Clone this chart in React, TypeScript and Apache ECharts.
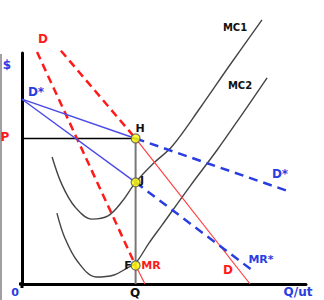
import React, { useEffect, useRef } from "react";
import * as echarts from "echarts";

// Equilibrium values (Q, P) and points on the Q vertical
const Q_EQ = 40;
const P_EQ = 63;
const J_VAL = 44;
const F_VAL = 8;

// Marginal cost curves [Q, $]
const mc1: number[][] = [
  [10.6, 55.0], [14.1, 42.9], [18.7, 33.3], [24.6, 28.1], [30.3, 29.5],
  [35.3, 35.8], [40, 44], [46.5, 52.5], [52.8, 59.5], [62.7, 76.2],
  [73.2, 94.8], [84.5, 114.3],
];
const mc2: number[][] = [
  [12.3, 30.7], [15.1, 19.9], [19.7, 9.5], [26.1, 3.0], [32.4, 3.9],
  [37.0, 6.9], [40, 9], [44.7, 17.7], [49.3, 25.5], [59.2, 42.4],
  [68.7, 58.0], [77.8, 74.0], [86.3, 89.2],
];

// Demand D (red) and its marginal revenue MR (red)
const dDashed: number[][] = [[13.7, 101], [Q_EQ, P_EQ]];
const dSolid: number[][] = [[Q_EQ, P_EQ], [80.3, 0]];
const mrDashed: number[][] = [[5.3, 100.4], [Q_EQ, F_VAL]];
const mrSolid: number[][] = [[Q_EQ, F_VAL], [43.3, 0]];

// Kinked demand D* (blue) and MR* (blue)
const dStarSolid: number[][] = [[0, 80], [Q_EQ, P_EQ]];
const dStarDashed: number[][] = [[Q_EQ, P_EQ], [93, 40.5]];
const mrStarSolid: number[][] = [[0, 80], [Q_EQ, J_VAL]];
const mrStarDashed: number[][] = [[Q_EQ, J_VAL], [81, 6]];

const priceLine: number[][] = [[0, P_EQ], [Q_EQ, P_EQ]];
const qLine: number[][] = [[Q_EQ, P_EQ], [Q_EQ, 0]];
const points: number[][] = [[Q_EQ, P_EQ], [Q_EQ, J_VAL], [Q_EQ, F_VAL]];

const RED = "#ff1a1a";
const BLUE = "#2a3de0";
const FONT = '"DejaVu Sans", Verdana, sans-serif';

function line(data: number[][], color: string, width: number, type: any, z: number, smooth: any = false) {
  return {
    type: "line",
    data,
    showSymbol: false,
    symbol: "none",
    clip: false,
    smooth,
    silent: true,
    z,
    lineStyle: { color, width, type },
  };
}

function txt(text: string, x: number, y: number, fill: string, size = 11) {
  return {
    type: "text",
    x,
    y,
    z: 100,
    style: {
      text,
      fill,
      font: `bold ${size}px ${FONT}`,
      align: "center",
      verticalAlign: "middle",
      textAlign: "center",
      textVerticalAlign: "middle",
    },
  };
}

export default function App() {
  const ref = useRef<HTMLDivElement>(null);
  useEffect(() => {
    if (!ref.current) return;
    const chart = echarts.init(ref.current, undefined, { renderer: "svg" });
    chart.setOption({
      animation: false,
      backgroundColor: "#ffffff",
      grid: { left: 22, top: 53, width: 284, height: 231 },
      xAxis: {
        type: "value", min: 0, max: 100,
        axisLine: { show: true, lineStyle: { color: "#000", width: 3 } },
        axisTick: { show: false }, axisLabel: { show: false }, splitLine: { show: false },
      },
      yAxis: {
        type: "value", min: 0, max: 100,
        axisLine: { show: true, lineStyle: { color: "#000", width: 3 } },
        axisTick: { show: false }, axisLabel: { show: false }, splitLine: { show: false },
      },
      series: [
        line(mc1, "#444", 1.4, "solid", 2, 0.35),
        line(mc2, "#444", 1.4, "solid", 2, 0.35),
        line(priceLine, "#000", 1.5, "solid", 3),
        line(qLine, "#777", 2, "solid", 3),
        line(dDashed, RED, 2.5, [8, 5], 4),
        line(dSolid, "#ff4040", 1.2, "solid", 4),
        line(mrDashed, RED, 2.5, [8, 5], 4),
        line(mrSolid, "#ff4040", 1.2, "solid", 4),
        line(dStarSolid, "#4a4ae8", 1.4, "solid", 5),
        line(dStarDashed, BLUE, 2.5, [9, 6], 5),
        line(mrStarSolid, "#4a4ae8", 1.4, "solid", 5),
        line(mrStarDashed, BLUE, 2.5, [9, 6], 5),
        {
          type: "scatter",
          data: points,
          symbolSize: 9,
          silent: true,
          z: 10,
          itemStyle: { color: "#ffff00", borderColor: "#555", borderWidth: 1.2 },
        },
      ],
      graphic: [
        { type: "rect", shape: { x: 0, y: 54, width: 2, height: 246 }, style: { fill: "#a0a0a0" } },
        { type: "line", shape: { x1: 22, y1: 282, x2: 22, y2: 288 }, style: { stroke: "#000", lineWidth: 3 } },
        { type: "line", shape: { x1: 19, y1: 284, x2: 24, y2: 284 }, style: { stroke: "#000", lineWidth: 3 } },
        txt("$", 7, 65, BLUE, 12),
        txt("P", 5, 137, RED, 12),
        txt("0", 15, 292, BLUE, 11),
        txt("Q", 135, 293, "#111", 12),
        txt("Q/ut", 298, 292, BLUE, 12),
        txt("D", 43, 39, RED, 12),
        txt("D*", 36, 92, BLUE, 12),
        txt("H", 140, 128, "#111", 11),
        txt("J", 142, 180, "#111", 11),
        txt("F", 128, 265, "#111", 11),
        txt("MR", 151, 265, RED, 11),
        txt("D*", 280, 174, BLUE, 12),
        txt("MR*", 261, 259, BLUE, 11),
        txt("D", 228, 270, RED, 12),
        txt("MC1", 235, 27, "#111", 10),
        txt("MC2", 240, 85, "#111", 10),
      ],
    });
    return () => chart.dispose();
  }, []);
  return (
    <div
      ref={ref}
      style={{ position: "absolute", left: 0, top: 0, width: 324, height: 300 }}
    />
  );
}
